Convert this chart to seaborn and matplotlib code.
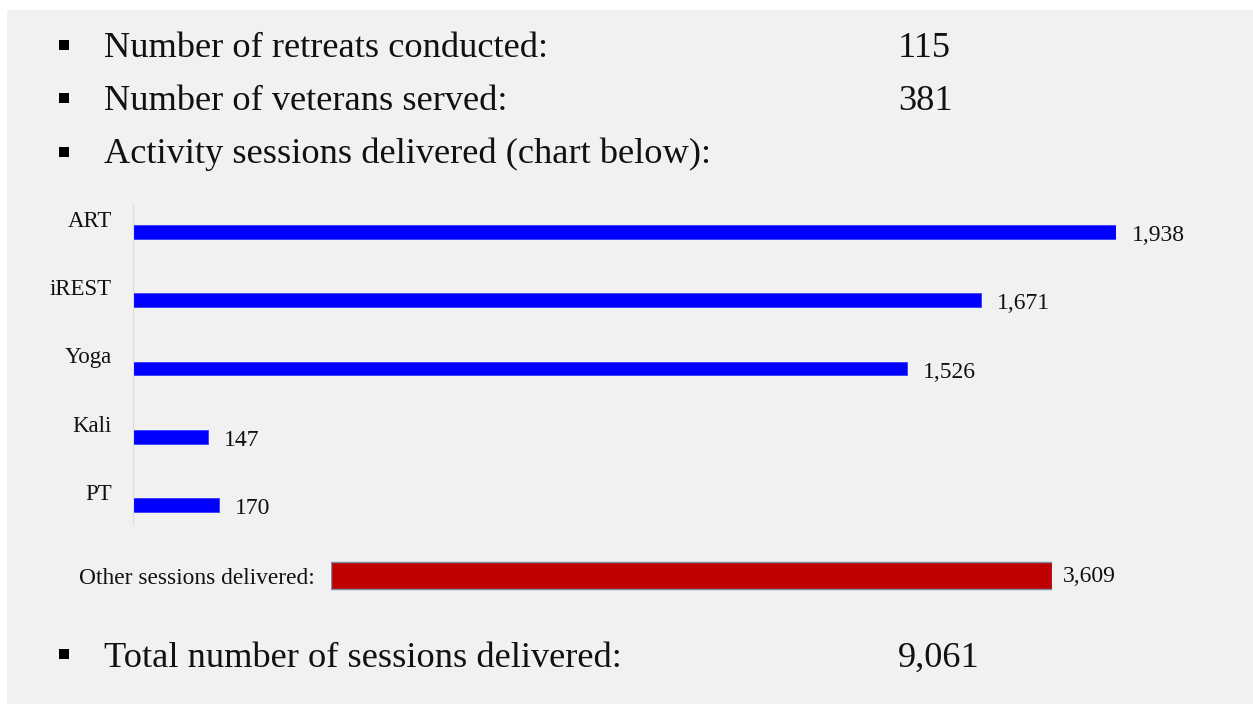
import matplotlib
matplotlib.use("Agg")
import matplotlib.pyplot as plt
from matplotlib.patches import Rectangle
import seaborn as sns

# Chart data
activities = ["ART", "iREST", "Yoga", "Kali", "PT"]
sessions = [1938, 1671, 1526, 147, 170]
other_label = "Other sessions delivered:"
other_sessions = [3609]

summary_labels = ["Number of retreats conducted:", "Number of veterans served:",
                  "Activity sessions delivered (chart below):"]
summary_values = ["115", "381", ""]
total_label = "Total number of sessions delivered:"
total_value = "9,061"

sns.set_style("white")
plt.rcParams["font.family"] = ["Liberation Serif", "DejaVu Sans"]

W, H = 1253, 704
fig = plt.figure(figsize=(W / 100, H / 100), dpi=100, facecolor="white")


def fx(px):
    return px / W


def fy(py):
    return 1 - py / H


# grey slide background
fig.patches.append(Rectangle((fx(7), 0), fx(W - 7), 1 - 10 / H, transform=fig.transFigure,
                             facecolor="#f1f1f1", edgecolor="none", zorder=-10))


def bullet(cy):
    s = 10
    fig.patches.append(Rectangle((fx(64 - s / 2), fy(cy + s / 2)), fx(s), s / H,
                                 transform=fig.transFigure, facecolor="black",
                                 edgecolor="none"))


# bullet lines at the top
for label, val, base, cy in zip(summary_labels, summary_values, [57, 110, 163], [45, 98, 152]):
    bullet(cy)
    fig.text(fx(104), fy(base), label, fontsize=26.2, va="baseline", ha="left", color="#111111")
    if val:
        fig.text(fx(898), fy(base), val, fontsize=26.2, va="baseline", ha="left", color="#111111")

# activity bars
top_c, bot_c = 232, 505
step = (bot_c - top_c) / (len(activities) - 1)
ax = fig.add_axes([fx(133), fy(bot_c + step / 2), fx(1116 - 133), (bot_c - top_c + step) / H])
ax.set_facecolor("none")
sns.barplot(x=sessions, y=activities, ax=ax, orient="h", color="#0000ff",
            saturation=1, width=0.205, edgecolor="#3a3aff", linewidth=0.6)
ax.set_xlim(0, max(sessions))
ax.set_ylim(len(activities) - 0.5, -0.5)
ax.set_xticks([])
ax.set_yticks([])
ax.set_xlabel("")
ax.set_ylabel("")
for sp in ["top", "right", "bottom"]:
    ax.spines[sp].set_visible(False)
ax.spines["left"].set_color("#dcdcdc")
ax.spines["left"].set_linewidth(0.8)
ax.spines["left"].set_bounds(-0.4, len(activities) - 0.71)

for i, (name, v) in enumerate(zip(activities, sessions)):
    ax.annotate(name, xy=(0, i), xytext=(-21, 5), textcoords="offset pixels",
                ha="right", va="baseline", fontsize=16.5, color="#111111", annotation_clip=False)
    ax.annotate(f"{v:,}", xy=(v, i), xytext=(16, -9), textcoords="offset pixels",
                ha="left", va="baseline", fontsize=17, color="#111111", annotation_clip=False)

# other sessions bar
oc = 575.5
ax2 = fig.add_axes([fx(331), fy(oc + 17), fx(1052 - 331), 34 / H])
ax2.set_facecolor("none")
sns.barplot(x=other_sessions, y=[other_label], ax=ax2, orient="h", color="#c00000",
            saturation=1, width=0.8, edgecolor="#7d8aa8", linewidth=1.0)
ax2.set_xlim(0, max(other_sessions))
ax2.set_ylim(0.5, -0.5)
ax2.set_xticks([])
ax2.set_yticks([])
ax2.set_xlabel("")
ax2.set_ylabel("")
for sp in ax2.spines.values():
    sp.set_visible(False)
ax2.annotate(other_label, xy=(0, 0), xytext=(-16, -9), textcoords="offset pixels",
             ha="right", va="baseline", fontsize=16.8, color="#111111", annotation_clip=False)
ax2.annotate(f"{other_sessions[0]:,}", xy=(other_sessions[0], 0), xytext=(11, -7),
             textcoords="offset pixels", ha="left", va="baseline", fontsize=17,
             color="#111111", annotation_clip=False)

# total line
bullet(654)
fig.text(fx(104), fy(667), total_label, fontsize=26.2, va="baseline", ha="left", color="#111111")
fig.text(fx(898), fy(667), total_value, fontsize=26.2, va="baseline", ha="left", color="#111111")

fig.savefig("out.png", dpi=100, facecolor=fig.get_facecolor())
